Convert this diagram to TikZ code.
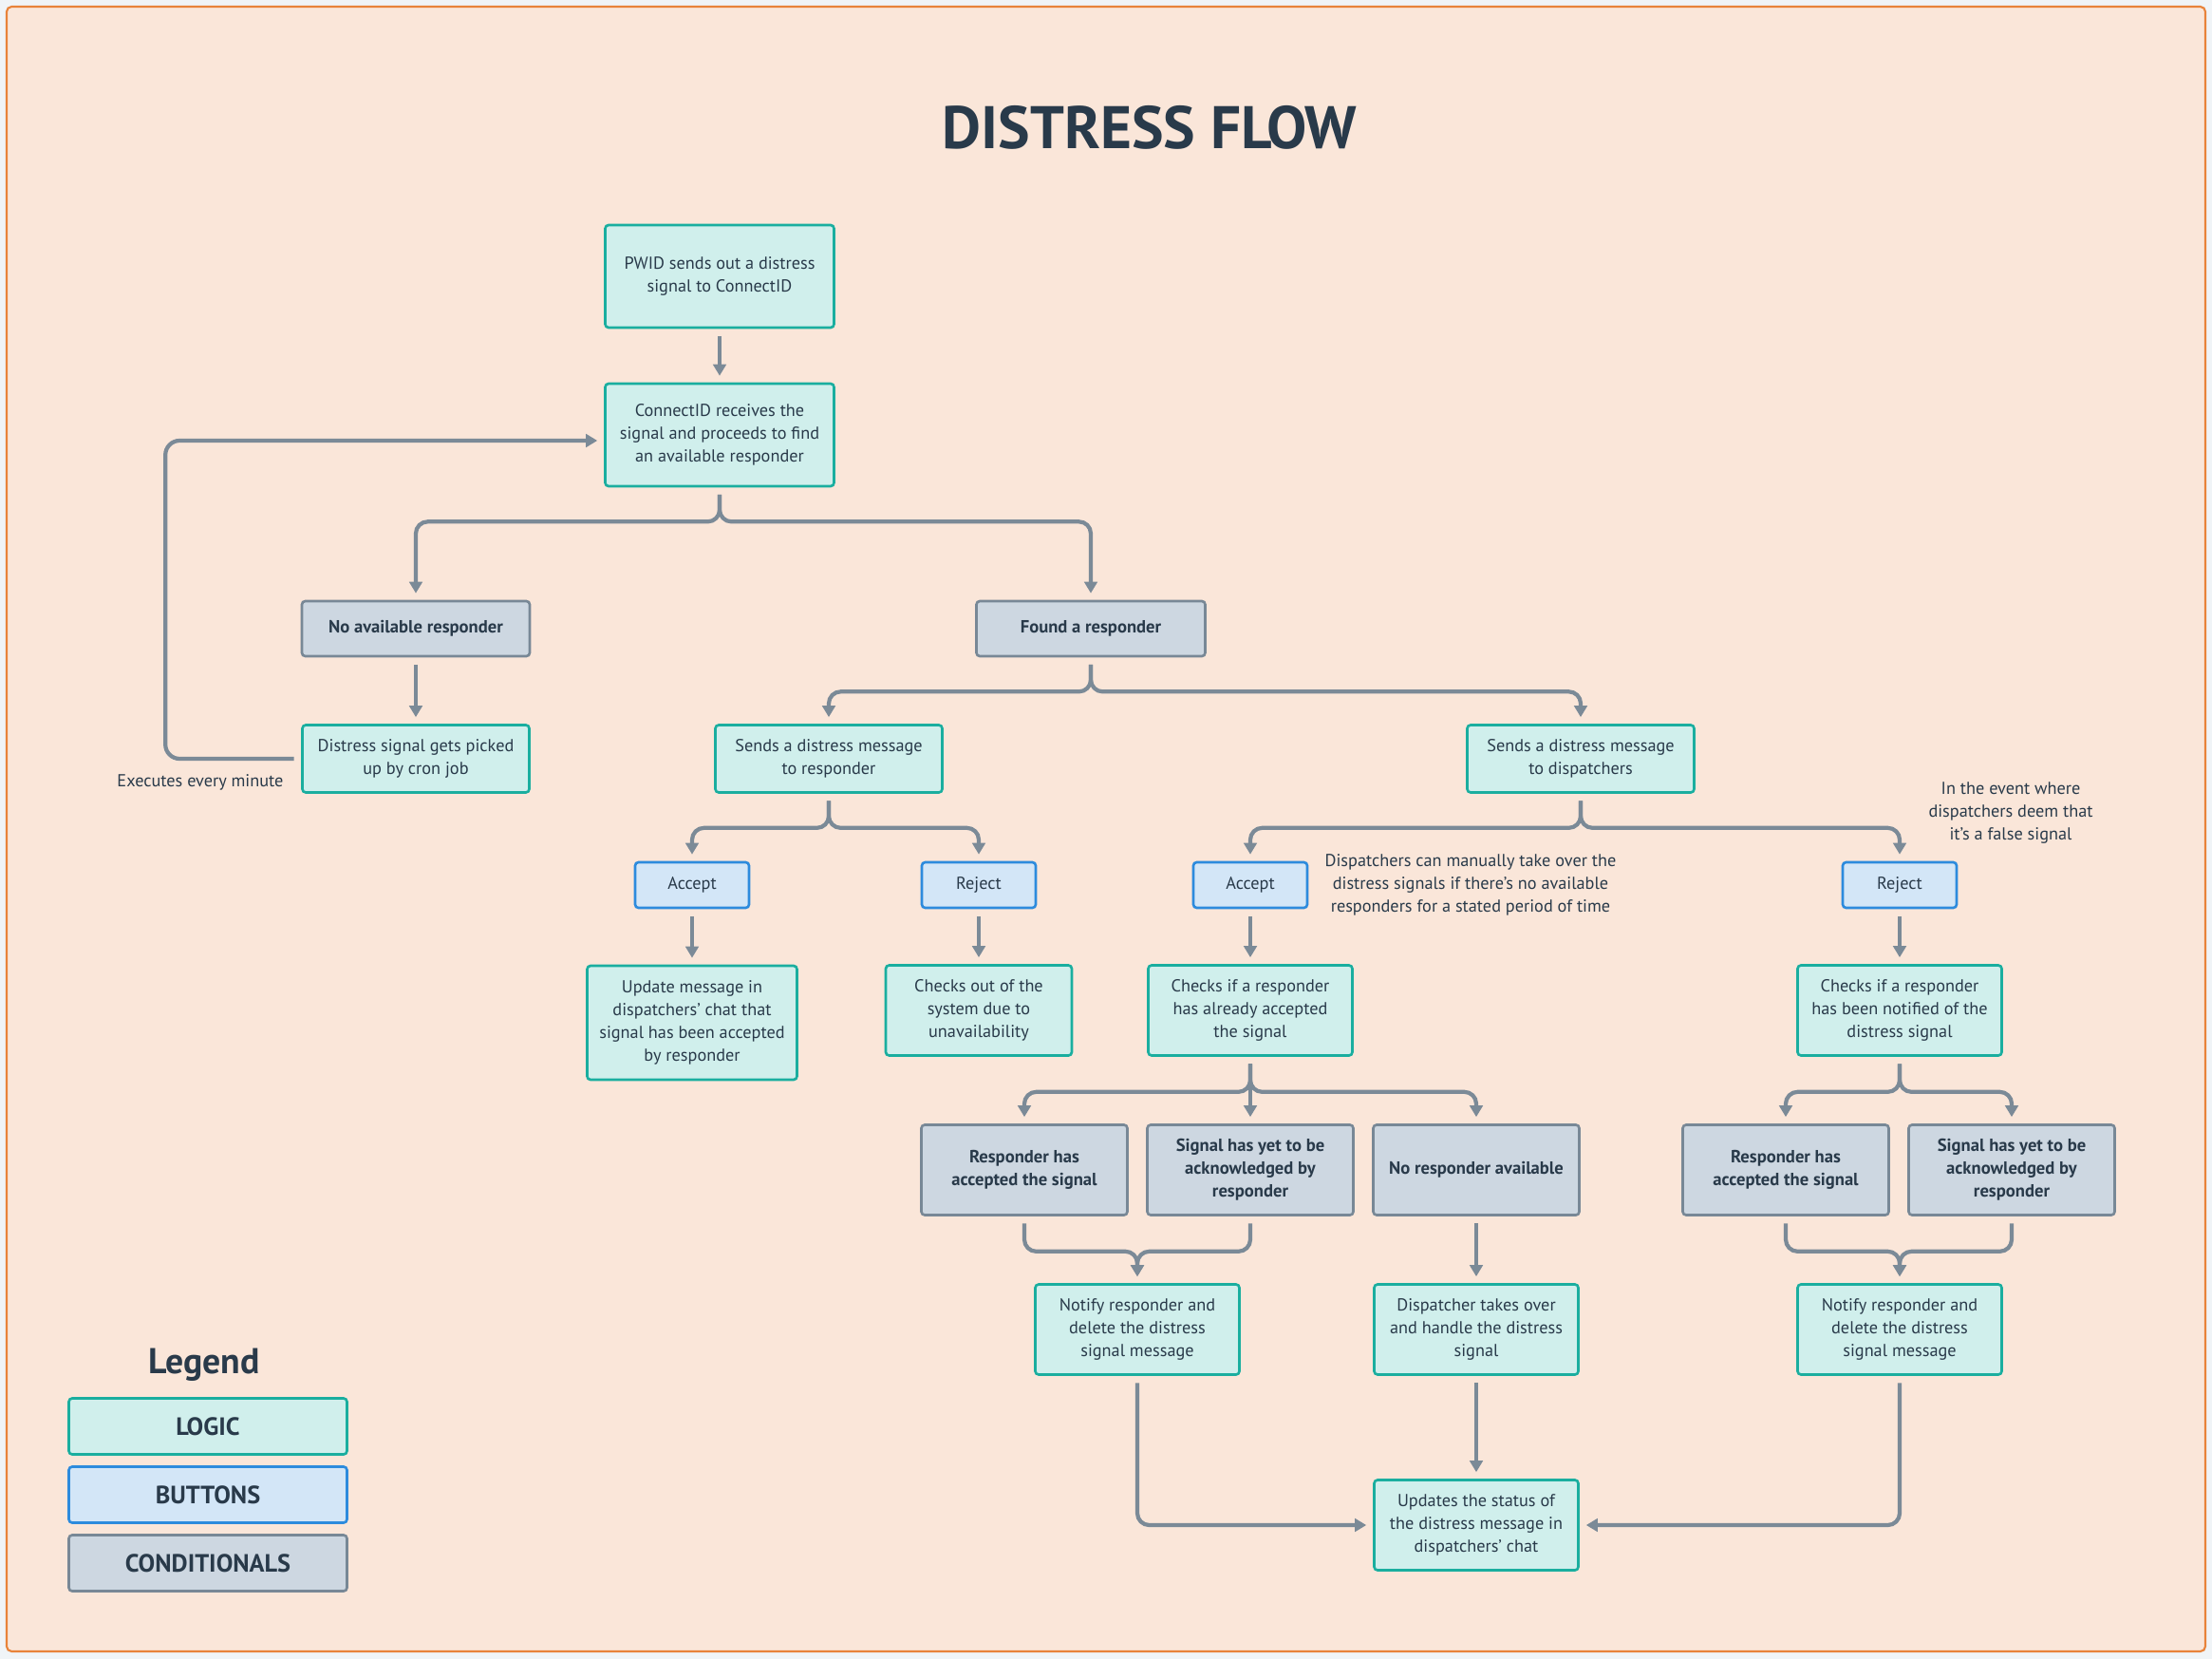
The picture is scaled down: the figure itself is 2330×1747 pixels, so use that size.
\documentclass[tikz,border=0pt]{standalone}
\usepackage{fontspec}
\setmainfont{PT Sans}
\usepackage{tikz}
\usetikzlibrary{arrows.meta, calc}
\definecolor{LogicFill}{HTML}{D0EFEC}
\definecolor{LogicLine}{HTML}{1AAE9F}
\definecolor{BtnFill}{HTML}{D3E6F7}
\definecolor{BtnLine}{HTML}{2D8BDD}
\definecolor{CondFill}{HTML}{CDD7E1}
\definecolor{CondLine}{HTML}{788896}
\definecolor{Wire}{HTML}{7B8A97}
\definecolor{Ink}{HTML}{293A4A}
\definecolor{Paper}{HTML}{FAE6D9}
\definecolor{Frame}{HTML}{E8833A}
\definecolor{Outside}{HTML}{F0F4F7}

\begin{document}
\begin{tikzpicture}[x=0.02cm, y=-0.02cm,
          base/.style={rectangle, rounded corners=2pt, line width=1.5pt, align=center,
                       text=Ink, inner sep=2pt, font=\fontsize{10.4}{13.7}\selectfont},
          logic/.style={base, draw=LogicLine, fill=LogicFill, minimum width=4.3cm, minimum height=1.9cm},
          button/.style={base, draw=BtnLine, fill=BtnFill, minimum width=2.4cm, minimum height=0.96cm},
          cond/.style={base, draw=CondLine, fill=CondFill, minimum width=4.34cm, minimum height=1.9cm,
                       font=\fontsize{10.6}{13.7}\selectfont\bfseries},
          legend/.style={base, minimum width=5.86cm, minimum height=1.18cm, font=\fontsize{15}{17}\selectfont\bfseries},
          note/.style={align=center, text=Ink, font=\fontsize{10.4}{13.7}\selectfont},
          arr/.style={-{Triangle[length=0.24cm, width=0.27cm]}, line width=2.4pt, draw=Wire,
                      shorten <=0.15cm, shorten >=0.14cm},
          fork/.style={arr, rounded corners=0.25cm}
        ]
        \useasboundingbox (0,0) rectangle (2330,1747);
        \fill[Outside] (0,0) rectangle (2330,1747);
        \draw[Frame, fill=Paper, line width=1.2pt, rounded corners=3pt] (7,7) rectangle (2323,1739);

        \node[text=Ink, font=\fontsize{36}{40}\selectfont\bfseries] (title) at (1211,134) {DISTRESS FLOW};

        % start of the flow
        \node[logic, minimum width=4.82cm, minimum height=2.16cm] (pwid)    at (758,291) {PWID sends out a distress\\signal to ConnectID};
        \node[logic, minimum width=4.82cm, minimum height=2.16cm] (connect) at (758,458) {ConnectID receives the\\signal and proceeds to find\\an available responder};
        \draw[arr] (pwid) -- (connect);

        % no responder found: cron loop
        \node[cond, minimum width=4.8cm, minimum height=1.16cm]   (noavail)  at (438,662) {No available responder};
        \node[logic, minimum width=4.78cm, minimum height=1.42cm] (cron)     at (438,799) {Distress signal gets picked\\up by cron job};
        \node[note] (cronnote) at (211,824) {Executes every minute};
        \draw[fork] (connect.south) -- ++(0,36) -| (noavail.north);
        \draw[arr] (noavail) -- (cron);
        \draw[fork, rounded corners=0.3cm] (cron.west) -- ++(-143,0) |- ($(connect.west)+(0,6)$);

        % responder found
        \node[cond, minimum width=4.82cm, minimum height=1.16cm]  (found)    at (1149,662) {Found a responder};
        \node[logic, minimum width=4.78cm, minimum height=1.42cm] (sendresp) at (873,799)  {Sends a distress message\\to responder};
        \node[logic, minimum width=4.78cm, minimum height=1.42cm] (senddisp) at (1665,799) {Sends a distress message\\to dispatchers};
        \draw[fork] (connect.south) -- ++(0,36) -| (found.north);
        \draw[fork] (found.south) -- ++(0,36) -| (sendresp.north);
        \draw[fork] (found.south) -- ++(0,36) -| (senddisp.north);

        % responder side
        \node[button] (accresp) at (729,932)  {Accept};
        \node[button] (rejresp) at (1031,932) {Reject};
        \node[logic, minimum width=4.42cm, minimum height=2.4cm] (update)   at (729,1077)  {Update message in\\dispatchers' chat that\\signal has been accepted\\by responder};
        \node[logic, minimum width=3.92cm]                       (checkout) at (1031,1064) {Checks out of the\\system due to\\unavailability};
        \draw[fork] (sendresp.south) -- ++(0,36) -| (accresp.north);
        \draw[fork] (sendresp.south) -- ++(0,36) -| (rejresp.north);
        \draw[arr] (accresp) -- (update);
        \draw[arr] (rejresp) -- (checkout);

        % dispatcher side
        \node[button] (accdisp) at (1317,932) {Accept};
        \node[button] (rejdisp) at (2001,932) {Reject};
        \node[note] (takeover)  at (1549,932) {Dispatchers can manually take over the\\distress signals if there's no available\\responders for a stated period of time};
        \node[note] (falsesig)  at (2118,856) {In the event where\\dispatchers deem that\\it's a false signal};
        \node[logic] (chkacc)  at (1317,1064) {Checks if a responder\\has already accepted\\the signal};
        \node[logic] (chknote) at (2001,1064) {Checks if a responder\\has been notified of the\\distress signal};
        \draw[fork] (senddisp.south) -- ++(0,36) -| (accdisp.north);
        \draw[fork] (senddisp.south) -- ++(0,36) -| (rejdisp.north);
        \draw[arr] (accdisp) -- (chkacc);
        \draw[arr] (rejdisp) -- (chknote);

        % conditions after accept
        \node[cond] (acceptA) at (1079,1232) {Responder has\\accepted the signal};
        \node[cond] (yetA)    at (1317,1232) {Signal has yet to be\\acknowledged by\\responder};
        \node[cond] (nonresp) at (1555,1232) {No responder available};
        \draw[fork] (chkacc.south) -- ++(0,37) -| (acceptA.north);
        \draw[arr]  (chkacc) -- (yetA);
        \draw[fork] (chkacc.south) -- ++(0,37) -| (nonresp.north);

        % conditions after reject
        \node[cond] (acceptB) at (1881,1232) {Responder has\\accepted the signal};
        \node[cond] (yetB)    at (2119,1232) {Signal has yet to be\\acknowledged by\\responder};
        \draw[fork] (chknote.south) -- ++(0,37) -| (acceptB.north);
        \draw[fork] (chknote.south) -- ++(0,37) -| (yetB.north);

        % outcomes
        \node[logic] (notifyA)  at (1198,1400) {Notify responder and\\delete the distress\\signal message};
        \node[logic] (takesover) at (1555,1400) {Dispatcher takes over\\and handle the distress\\signal};
        \node[logic] (notifyB)  at (2001,1400) {Notify responder and\\delete the distress\\signal message};
        \node[logic] (status)   at (1555,1606) {Updates the status of\\the distress message in\\dispatchers' chat};
        \draw[fork] (acceptA.south) -- ++(0,37) -| (notifyA.north);
        \draw[fork] (yetA.south) -- ++(0,37) -| (notifyA.north);
        \draw[arr]  (nonresp) -- (takesover);
        \draw[fork] (acceptB.south) -- ++(0,37) -| (notifyB.north);
        \draw[fork] (yetB.south) -- ++(0,37) -| (notifyB.north);
        \draw[fork] (notifyA.south) |- (status.west);
        \draw[arr]  (takesover) -- (status);
        \draw[fork] (notifyB.south) |- (status.east);

        % legend
        \node[text=Ink, font=\fontsize{21.5}{24}\selectfont\bfseries] (legtitle) at (215,1437) {Legend};
        \node[legend, draw=LogicLine, fill=LogicFill] (leglogic) at (219,1502) {LOGIC};
        \node[legend, draw=BtnLine, fill=BtnFill]     (legbtn)   at (219,1574) {BUTTONS};
        \node[legend, draw=CondLine, fill=CondFill]   (legcond)  at (219,1646) {CONDITIONALS};
      \end{tikzpicture}
\end{document}
